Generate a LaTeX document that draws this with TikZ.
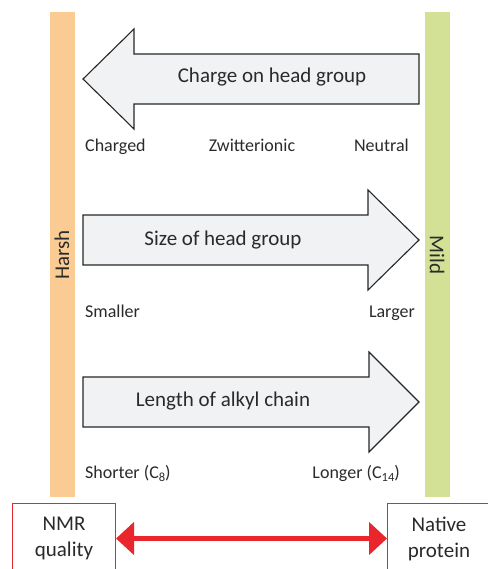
\documentclass[tikz,border=0pt]{standalone}
\usepackage{fontspec}
\setmainfont{Carlito}
\usetikzlibrary{arrows.meta}
\definecolor{harshOrange}{HTML}{FBCB94}
\definecolor{mildGreen}{HTML}{D2E196}
\definecolor{arrowGray}{HTML}{F1F2F4}
\definecolor{lineRed}{HTML}{E8262B}
\definecolor{textGray}{HTML}{2A2A2A}
\newcommand{\chainSub}[1]{\raisebox{-3.5pt}{\fontsize{12.5}{13}\selectfont #1}}

\begin{document}
\begin{tikzpicture}
[x=1pt,y=-1pt,
  arrowDecorate/.style={draw=black!85,fill=arrowGray,line width=1.1pt,line join=miter},%
  titleDecorate/.style={text=textGray,font=\fontsize{21}{26}\selectfont,inner sep=0pt},%
  endDecorate/.style={text=textGray,font=\fontsize{18}{22}\selectfont,inner sep=0pt},%
  qualityBox/.style={draw=lineRed,line width=1pt,text=textGray,align=center,
    font=\fontsize{21}{26}\selectfont,minimum width=103pt,minimum height=70pt,
    anchor=north west}]
\useasboundingbox (0,0) rectangle (487,569);
%% side bars
\fill[harshOrange] (50,12) rectangle (75,497);
\fill[mildGreen] (425,12) rectangle (450,497);
\node[titleDecorate,rotate=90] (harsh) at (62,255) {Harsh};
\node[titleDecorate,rotate=-90] (mild) at (437,255) {Mild};
%% block arrows: start / head back / tip / centre
\foreach \s/\hb/\t/\yc in {
  419/134/83/79, 83/368/419/240, 83/369/419/402}
{
  \draw[arrowDecorate] (\s,\yc-25) -- (\hb,\yc-25) -- (\hb,\yc-50) -- (\t,\yc)
    -- (\hb,\yc+50) -- (\hb,\yc+25) -- (\s,\yc+25) -- cycle;
}
%% arrow titles (on their baselines)
\foreach \nodename/\x/\y/\txt in {
  charge/272/83/Charge on head group,
  size/223/245/Size of head group,
  length/223/406/Length of alkyl chain}
{
  \node[titleDecorate,anchor=base] (\nodename) at (\x,\y) {\txt};
}
%% end labels
\foreach \nodename/\x/\y/\pos/\txt in {
  charged/85/152/base west/Charged, zwitter/252/152/base/Zwitterionic,
  neutral/409/152/base east/Neutral,
  smaller/85/317/base west/Smaller, larger/415/317/base east/Larger,
  shorter/85/478/base west/{Shorter (C\chainSub{8})},
  longer/400/478/base east/{Longer (C\chainSub{14})}}
{
  \node[endDecorate,anchor=\pos] (\nodename) at (\x,\y) {\txt};
}
%% bottom boxes
\node[qualityBox] (nmr) at (12,503) {NMR\\quality};
\node[qualityBox] (native) at (387,503) {Native\\protein};
\draw[lineRed,line width=4.5pt,{Triangle[length=18pt,width=32pt]}-{Triangle[length=18pt,width=32pt]}]
  (nmr.east) -- (native.west);
\end{tikzpicture}
\end{document}
